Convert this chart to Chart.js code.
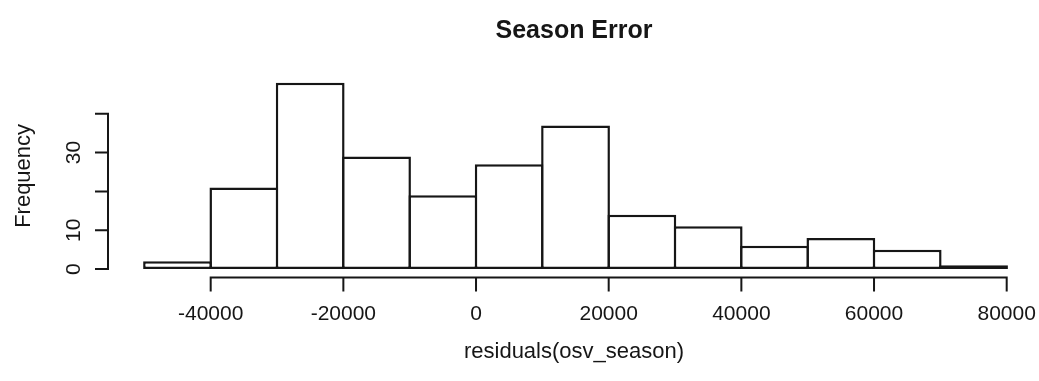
<!DOCTYPE html>
<html>
<head>
<meta charset="utf-8">
<title>Season Error</title>
<script src="https://cdn.jsdelivr.net/npm/chart.js@4.4.1/dist/chart.umd.min.js"></script>
<style>
  html, body { margin: 0; padding: 0; background: #fff; }
  #wrap { width: 1039px; height: 381px; }
</style>
</head>
<body>
<div id="wrap"><canvas id="histChart" width="1039" height="381"></canvas></div>
<script>
// histogram of residuals(osv_season), bins of 10000
const binStarts = [-50000, -40000, -30000, -20000, -10000, 0, 10000, 20000, 30000, 40000, 50000, 60000, 70000];
const binWidth = 10000;
const counts = [2, 21, 48, 29, 19, 27, 37, 14, 11, 6, 8, 5, 1];
const xTicks = [-40000, -20000, 0, 20000, 40000, 60000, 80000];
const yTicks = [0, 10, 20, 30, 40];
const yTickLabels = ['0', '10', '', '30', ''];

const ink = '#161616';
const fontFamily = '"Liberation Sans", Arial, sans-serif';

// R style axes: lines only span the tick range, sitting off the bars
const rAxes = {
    id: 'rAxes',
    afterDraw(chart) {
        const { ctx, chartArea, scales: { x, y } } = chart;
        ctx.save();
        ctx.strokeStyle = ink;
        ctx.lineWidth = 2;
        ctx.lineCap = 'square';
        ctx.beginPath();
        const ax = chartArea.bottom + 1;
        ctx.moveTo(x.getPixelForValue(xTicks[0]), ax);
        ctx.lineTo(x.getPixelForValue(xTicks[xTicks.length - 1]), ax);
        xTicks.forEach(function (v) {
            const px = x.getPixelForValue(v);
            ctx.moveTo(px, ax);
            ctx.lineTo(px, ax + 13);
        });
        const ay = chartArea.left - 1;
        ctx.moveTo(ay, y.getPixelForValue(yTicks[0]));
        ctx.lineTo(ay, y.getPixelForValue(yTicks[yTicks.length - 1]));
        yTicks.forEach(function (v) {
            const py = y.getPixelForValue(v);
            ctx.moveTo(ay, py);
            ctx.lineTo(ay - 12, py);
        });
        ctx.stroke();
        ctx.restore();
    }
};

document.addEventListener('DOMContentLoaded', function () {
    const ctx = document.getElementById('histChart').getContext('2d');

    const data = {
        datasets: [{
            label: 'Frequency',
            data: binStarts.map(function (b, i) { return { x: b + binWidth / 2, y: counts[i] }; }),
            backgroundColor: '#ffffff',
            borderColor: ink,
            borderWidth: 2.5,
            borderSkipped: false,
            // a little wider than the bin so neighbouring borders share one line
            barPercentage: 1.037,
            categoryPercentage: 1
        }]
    };

    const config = {
        type: 'bar',
        data: data,
        options: {
            responsive: false,
            animation: false,
            layout: { padding: 0 },
            scales: {
                x: {
                    type: 'linear',
                    offset: false,
                    min: -55330,
                    max: 84870,
                    grid: { display: false, offset: false },
                    border: { display: false },
                    afterBuildTicks: function (s) {
                        s.ticks = xTicks.map(function (v) { return { value: v }; });
                    },
                    afterFit: function (s) {
                        s.height = 104.5;
                        s.paddingLeft = 0;
                        s.paddingRight = 0;
                    },
                    ticks: {
                        autoSkip: false,
                        maxRotation: 0,
                        padding: 17,
                        color: ink,
                        font: { family: fontFamily, size: 21 },
                        callback: function (v) { return String(v); }
                    },
                    title: {
                        display: true,
                        text: 'residuals(osv_season)',
                        color: ink,
                        font: { family: fontFamily, size: 22 },
                        padding: { top: 0, bottom: 15.5 }
                    }
                },
                y: {
                    min: -1.92,
                    max: 49.92,
                    grid: { display: false },
                    border: { display: false },
                    afterBuildTicks: function (s) {
                        s.ticks = yTicks.map(function (v) { return { value: v }; });
                    },
                    afterFit: function (s) {
                        s.width = 109;
                        s.paddingTop = 0;
                        s.paddingBottom = 0;
                    },
                    ticks: {
                        autoSkip: false,
                        minRotation: 90,
                        maxRotation: 90,
                        crossAlign: 'center',
                        padding: 15.5,
                        color: ink,
                        font: { family: fontFamily, size: 21 },
                        callback: function (v) { return yTickLabels[yTicks.indexOf(v)]; }
                    },
                    title: {
                        display: true,
                        text: 'Frequency',
                        color: ink,
                        font: { family: fontFamily, size: 22 },
                        padding: { top: 11, bottom: 0 }
                    }
                }
            },
            plugins: {
                legend: { display: false },
                tooltip: { enabled: false },
                title: {
                    display: true,
                    text: 'Season Error',
                    fullSize: false,
                    color: ink,
                    font: { family: fontFamily, size: 25, weight: 'bold' },
                    padding: { top: 16.5, bottom: 28.8 }
                }
            }
        },
        plugins: [rAxes]
    };

    new Chart(ctx, config);
});
</script>
</body>
</html>
